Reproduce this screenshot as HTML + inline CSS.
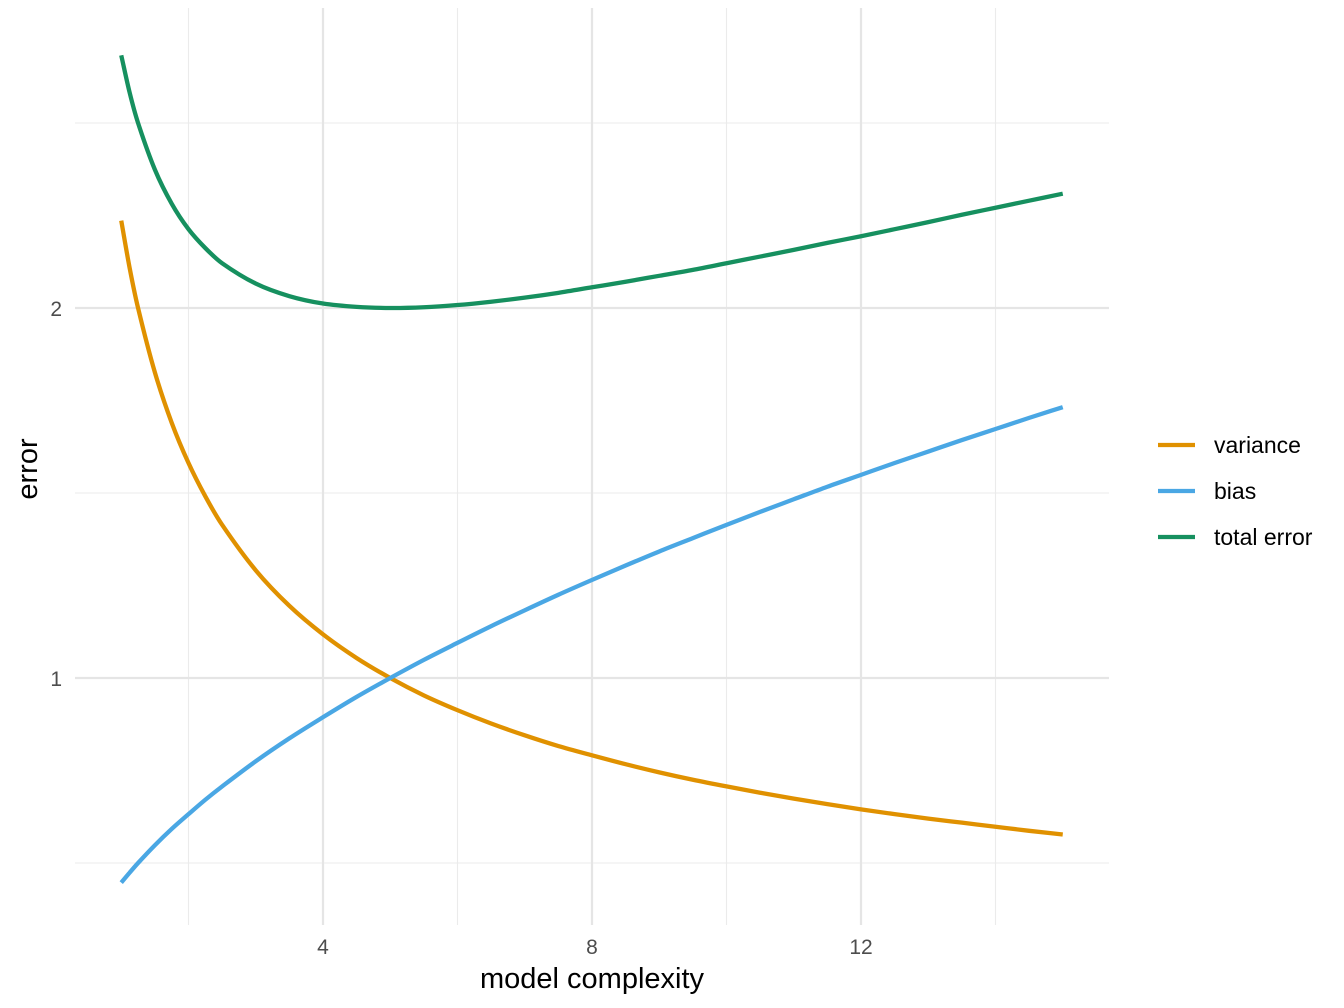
<!DOCTYPE html>
<html><head><meta charset="utf-8">
<style>
html,body{margin:0;padding:0;background:#fff;}
svg{display:block;font-family:"Liberation Sans",Arial,sans-serif;}
</style></head>
<body>
<svg id="chart" width="1344" height="1008" viewBox="0 0 1344 1008">
<g id="grid"></g>
<g id="series"></g>
<g id="axes"></g>
<text x="592" y="988" text-anchor="middle" font-size="29" fill="#000">model complexity</text>
<text transform="translate(37,469) rotate(-90)" text-anchor="middle" font-size="29" fill="#000">error</text>
<g id="legend"></g>
</svg>
<script>
const xs = [1,1.125,1.25,1.5,1.75,2,2.25,2.5,3,3.5,4,4.5,5,5.5,6,6.5,7,7.5,8,8.5,9,9.5,10,10.5,11,11.5,12,12.5,13,13.5,14,14.5,15];
const variance = [2.236,2.108,2.0,1.826,1.690,1.581,1.491,1.414,1.291,1.195,1.118,1.054,1.0,0.953,0.913,0.877,0.845,0.816,0.791,0.767,0.745,0.725,0.707,0.690,0.674,0.659,0.645,0.632,0.620,0.609,0.598,0.587,0.577];
const bias = [0.447,0.474,0.5,0.548,0.592,0.632,0.671,0.707,0.775,0.837,0.894,0.949,1.0,1.049,1.095,1.140,1.183,1.225,1.265,1.304,1.342,1.378,1.414,1.449,1.483,1.517,1.549,1.581,1.612,1.643,1.673,1.703,1.732];
const total = [2.683,2.582,2.5,2.374,2.282,2.213,2.162,2.121,2.066,2.032,2.012,2.003,2.0,2.002,2.008,2.017,2.028,2.041,2.056,2.071,2.087,2.103,2.121,2.139,2.157,2.176,2.194,2.213,2.232,2.252,2.271,2.290,2.309];
const seriesNames = ["variance","bias","total error"];
const seriesColors = ["#E09100","#4AA7E4","#16905F"];
const xMajor = [4,8,12];
const xMinor = [2,6,10,14];
const yMajor = [1,2];
const yMinor = [0.5,1.5,2.5];

const NS = "http://www.w3.org/2000/svg";
const X = v => 323 + (v - 4) * 67.25;
const Y = v => 678 - (v - 1) * 370;
const L = 75, R = 1109, T = 8, B = 925;
function mk(tag, attrs, parent){const e=document.createElementNS(NS,tag);for(const k in attrs)e.setAttribute(k,attrs[k]);parent.appendChild(e);return e;}
const grid = document.getElementById('grid');
xMinor.forEach(v=>{const l=mk('line',{x1:X(v),x2:X(v),y1:T,y2:B,stroke:'#ebebeb','stroke-width':1.1},grid);

});
yMinor.forEach(v=>{const l=mk('line',{x1:L,x2:R,y1:Y(v),y2:Y(v),stroke:'#ebebeb','stroke-width':1.1},grid);

});
xMajor.forEach(v=>{const l=mk('line',{x1:X(v),x2:X(v),y1:T,y2:B,stroke:'#e5e5e5','stroke-width':2.2},grid);

});
yMajor.forEach(v=>{const l=mk('line',{x1:L,x2:R,y1:Y(v),y2:Y(v),stroke:'#e5e5e5','stroke-width':2.2},grid);

});
const axes = document.getElementById('axes');
xMajor.forEach(v=>{const t=mk('text',{x:X(v),y:954,'text-anchor':'middle','font-size':21,fill:'#4d4d4d'},axes);t.textContent=v;

});
yMajor.forEach(v=>{const t=mk('text',{x:62,y:Y(v)+8,'text-anchor':'end','font-size':21,fill:'#4d4d4d'},axes);t.textContent=v;

});
function pathFor(ys){
  const p=xs.map((x,i)=>[X(x),Y(ys[i])]);
  let d='M'+p[0][0]+','+p[0][1];
  for(let i=0;i<p.length-1;i++){
    const p0=p[i-1]||p[i],p1=p[i],p2=p[i+1],p3=p[i+2]||p[i+1];
    const h=p2[0]-p1[0];
    const s1=(p2[1]-p0[1])/(p2[0]-p0[0]||1);
    const s2=(p3[1]-p1[1])/(p3[0]-p1[0]||1);
    const c1=[p1[0]+h/3,p1[1]+s1*h/3];
    const c2=[p2[0]-h/3,p2[1]-s2*h/3];
    d+=' C'+c1.join(',')+' '+c2.join(',')+' '+p2.join(',');
  }
  return d;
}
const sg=document.getElementById('series');
[variance,bias,total].forEach((ys,i)=>{
  const pth=mk('path',{d:pathFor(ys),fill:'none',stroke:seriesColors[i],'stroke-width':4.3},sg);
  
  
});
const lg=document.getElementById('legend');
seriesNames.forEach((n,i)=>{
  const y=445+i*46;
  const ln=mk('line',{x1:1158,x2:1195,y1:y,y2:y,stroke:seriesColors[i],'stroke-width':4.3},lg);
  
  
  const t=mk('text',{x:1214,y:y+8,'font-size':23,fill:'#000'},lg);t.textContent=n;
  
  
});
</script>
</body></html>
